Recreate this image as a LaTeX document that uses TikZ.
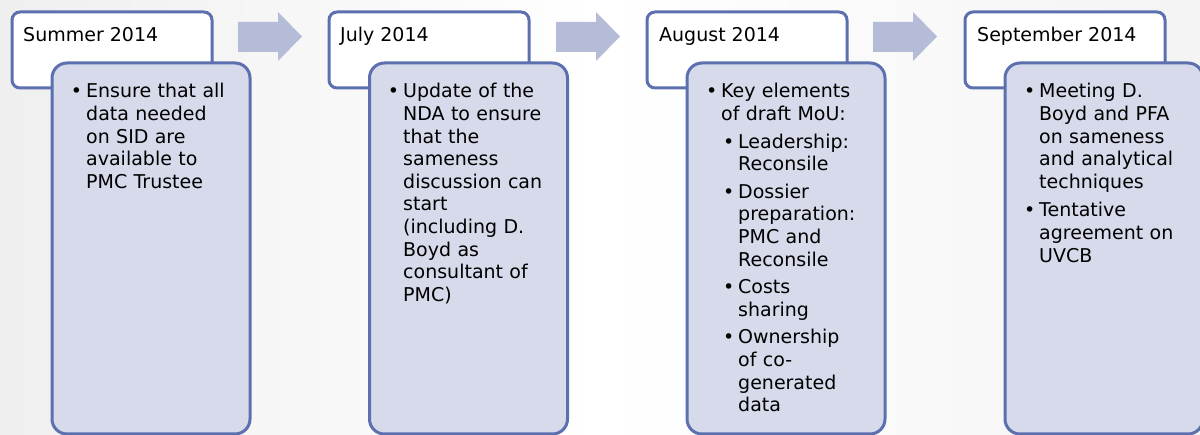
\documentclass[tikz,border=0pt]{standalone}
\usepackage{fontspec}
\setmainfont{DejaVu Sans}
\definecolor{bord}{HTML}{5C70B0}
\definecolor{bodyc}{HTML}{D6DAEA}
\definecolor{arrc}{HTML}{B4BCD8}
\definecolor{bgl}{HTML}{EFEFEF}
\newcommand\blt{\llap{\textbullet\hspace{4pt}}}
\newcommand\sub{\hspace*{17pt}}
\begin{document}
\begin{tikzpicture}[x=1pt,y=-1pt,
  hdr/.style={draw=bord,line width=3pt,fill=white,rounded corners=8pt,minimum width=200pt,minimum height=76pt,anchor=north west,inner sep=0pt},
  bodybox/.style={draw=bord,line width=3pt,fill=bodyc,rounded corners=15pt,minimum width=198pt,minimum height=371pt,anchor=north west,inner sep=0pt},
  htxt/.style={anchor=base west,inner sep=0pt,font=\fontsize{19}{22.5}\selectfont},
  btxt/.style={anchor=base west,inner sep=0pt,text width=170pt,align=left,font=\fontsize{19}{22.6}\selectfont},
  arr/.style={fill=arrc}]
\useasboundingbox (0,0) rectangle (1200,435);
\shade[left color=bgl,right color=bgl!70,middle color=white] (0,0) rectangle (1200,435);
% arrows
\foreach \x in {238,556,873}{
  \fill[arr] (\x,22) -- (\x+40,22) -- (\x+40,12) -- (\x+64,36.5) -- (\x+40,61) -- (\x+40,52) -- (\x,52) -- cycle;
}
% group 1
\node[hdr] (h1) at (10.5,10.5) {};
\node[bodybox] (b1) at (50.5,61.5) {};
\node[htxt] (ht1) at (23,42) {Summer 2014};
\node[btxt] (bt1) at (86,98) {\blt Ensure that all\\data needed\\on SID are\\available to\\PMC Trustee};
% group 2
\node[hdr] (h2) at (327.5,10.5) {};
\node[bodybox] (b2) at (368,61.5) {};
\node[htxt] (ht2) at (340,42) {July 2014};
\node[btxt] (bt2) at (403,98) {\blt Update of the\\NDA to ensure\\that the\\sameness\\discussion can\\start\\(including D.\\Boyd as\\consultant of\\PMC)};
% group 3
\node[hdr] (h3) at (645.5,10.5) {};
\node[bodybox] (b3) at (685.5,61.5) {};
\node[htxt] (ht3) at (659,42) {August 2014};
\node[btxt] (bt3) at (721,98) {\blt Key elements\\of draft MoU:\\[5pt]\sub\blt Leadership:\\\sub Reconsile\\[5pt]\sub\blt Dossier\\\sub preparation:\\\sub PMC and\\\sub Reconsile\\[5pt]\sub\blt Costs\\\sub sharing\\[5pt]\sub\blt Ownership\\\sub of co-\\\sub generated\\\sub data};
% group 4
\node[hdr] (h4) at (963.5,10.5) {};
\node[bodybox] (b4) at (1003.5,61.5) {};
\node[htxt] (ht4) at (977,42) {September 2014};
\node[btxt] (bt4) at (1039,98) {\blt Meeting D.\\Boyd and PFA\\on sameness\\and analytical\\techniques\\[6pt]\hspace*{0pt}\blt Tentative\\agreement on\\UVCB};
\end{tikzpicture}
\end{document}
